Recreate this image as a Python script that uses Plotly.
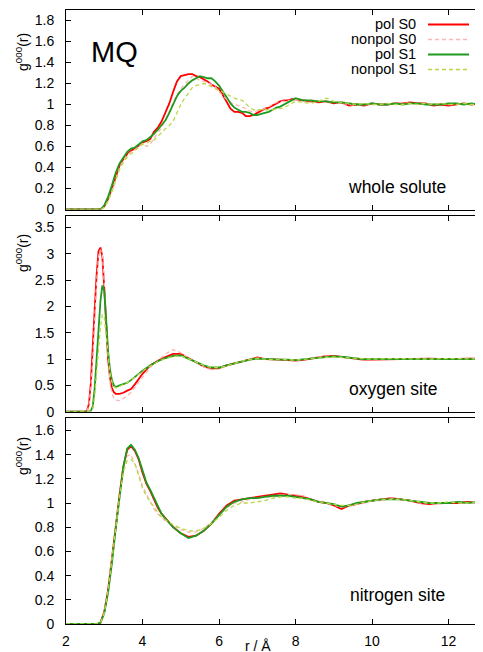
import plotly.graph_objects as go

# ---------------- data ----------------
series_names = ["pol S0", "nonpol S0", "pol S1", "nonpol S1"]
panel_labels = ["whole solute", "oxygen site", "nitrogen site"]

r_whole = [2.0, 2.9, 3.0, 3.1, 3.2, 3.3, 3.4, 3.5, 3.6, 3.7, 3.8, 3.9, 4.0, 4.1, 4.2, 4.3,
           4.4, 4.5, 4.6, 4.7, 4.8, 4.9, 5.0, 5.1, 5.2, 5.3, 5.4, 5.5, 5.6, 5.7, 5.8, 5.9,
           6.0, 6.1, 6.2, 6.3, 6.4, 6.5, 6.6, 6.7, 6.8, 6.9, 7.0, 7.1, 7.2, 7.3, 7.4, 7.5,
           7.6, 7.7, 7.8, 7.9, 8.0, 8.2, 8.4, 8.6, 8.8, 9.0, 9.2, 9.4, 9.6, 9.8, 10.0, 10.2,
           10.4, 10.6, 10.8, 11.0, 11.2, 11.4, 11.6, 11.8, 12.0, 12.2, 12.4, 12.6, 12.8, 13.0]
whole_pol_s0 = [0, 0, 0.03, 0.10, 0.20, 0.32, 0.42, 0.48, 0.53, 0.56, 0.58, 0.61, 0.64, 0.65, 0.67, 0.74,
                0.78, 0.84, 0.92, 1.01, 1.12, 1.22, 1.27, 1.28, 1.29, 1.29, 1.27, 1.26, 1.24, 1.22, 1.19, 1.17,
                1.15, 1.09, 1.03, 0.96, 0.93, 0.93, 0.92, 0.89, 0.89, 0.90, 0.92, 0.94, 0.96, 0.97, 0.99, 1.01,
                1.03, 1.04, 1.04, 1.05, 1.05, 1.04, 1.03, 1.02, 1.03, 1.01, 1.02, 0.99, 1.00, 0.99, 1.01, 1.00,
                1.00, 1.01, 1.01, 1.02, 1.01, 1.01, 0.99, 1.00, 0.99, 1.00, 1.01, 1.00, 1.01, 1.00]
whole_nonpol_s0 = [0, 0, 0.02, 0.08, 0.18, 0.30, 0.40, 0.47, 0.52, 0.55, 0.57, 0.60, 0.63, 0.60, 0.62, 0.68,
                   0.73, 0.78, 0.85, 0.93, 1.02, 1.10, 1.15, 1.19, 1.24, 1.27, 1.25, 1.23, 1.22, 1.21, 1.19, 1.17,
                   1.12, 1.08, 1.05, 1.02, 1.00, 0.99, 0.98, 0.96, 0.94, 0.93, 0.94, 0.95, 0.96, 0.98, 1.00, 1.02,
                   1.03, 1.03, 1.04, 1.04, 1.05, 1.03, 1.02, 1.03, 1.02, 1.02, 1.01, 1.00, 0.99, 1.00, 1.00, 1.01,
                   1.00, 1.01, 1.02, 1.01, 1.00, 1.01, 1.00, 1.01, 1.00, 1.01, 1.00, 1.00, 1.01, 1.00]
whole_pol_s1 = [0, 0, 0.04, 0.12, 0.23, 0.35, 0.44, 0.50, 0.55, 0.58, 0.59, 0.62, 0.65, 0.66, 0.69, 0.72,
                0.76, 0.80, 0.85, 0.92, 1.00, 1.08, 1.13, 1.16, 1.20, 1.23, 1.25, 1.27, 1.26, 1.25, 1.25, 1.22,
                1.18, 1.13, 1.07, 1.01, 0.97, 0.95, 0.93, 0.93, 0.92, 0.90, 0.90, 0.91, 0.92, 0.93, 0.95, 0.97,
                0.98, 1.00, 1.02, 1.04, 1.06, 1.04, 1.04, 1.03, 1.03, 1.02, 1.02, 1.01, 1.00, 1.00, 1.01, 1.00,
                1.00, 1.01, 1.00, 1.01, 1.01, 1.00, 1.00, 1.00, 1.01, 1.01, 1.00, 1.01, 1.00, 1.00]
whole_nonpol_s1 = [0, 0, 0.02, 0.08, 0.17, 0.28, 0.38, 0.45, 0.50, 0.53, 0.56, 0.59, 0.62, 0.63, 0.65, 0.66,
                   0.70, 0.74, 0.77, 0.80, 0.84, 0.92, 1.00, 1.06, 1.11, 1.16, 1.18, 1.19, 1.20, 1.19, 1.17, 1.15,
                   1.13, 1.12, 1.10, 1.08, 1.06, 1.05, 1.04, 1.01, 0.97, 0.95, 0.95, 0.95, 0.95, 0.95, 0.95, 0.96,
                   0.96, 0.97, 0.99, 1.01, 1.03, 1.02, 1.01, 1.03, 1.06, 1.03, 1.02, 1.01, 1.00, 1.01, 1.00, 1.00,
                   1.01, 1.00, 1.00, 1.01, 1.00, 1.01, 1.00, 1.01, 1.00, 1.00, 1.01, 1.00, 1.00, 1.00]

r_oxygen = [2.0, 2.5, 2.55, 2.6, 2.65, 2.7, 2.75, 2.8, 2.85, 2.9, 2.95, 3.0, 3.05, 3.1, 3.15, 3.2,
            3.25, 3.3, 3.4, 3.5, 3.6, 3.7, 3.8, 3.9, 4.0, 4.2, 4.4, 4.6, 4.8, 5.0, 5.2, 5.4,
            5.6, 5.8, 6.0, 6.2, 6.4, 6.6, 6.8, 7.0, 7.2, 7.4, 7.6, 7.8, 8.0, 8.25, 8.5, 8.75,
            9.0, 9.25, 9.5, 9.75, 10.0, 10.5, 11.0, 11.5, 12.0, 12.5, 13.0]
oxygen_pol_s0 = [0, 0, 0.02, 0.15, 0.55, 1.15, 1.95, 2.60, 3.05, 3.12, 2.95, 2.35, 1.55, 1.00, 0.65, 0.45,
                 0.37, 0.34, 0.34, 0.36, 0.40, 0.43, 0.52, 0.62, 0.72, 0.88, 0.97, 1.04, 1.10, 1.10, 1.02, 0.93,
                 0.86, 0.82, 0.83, 0.88, 0.92, 0.96, 1.00, 1.03, 1.00, 1.00, 0.99, 0.98, 0.97, 0.99, 1.02, 1.05,
                 1.06, 1.04, 1.01, 0.99, 0.99, 1.00, 1.01, 1.01, 1.00, 1.01, 1.00]
oxygen_nonpol_s0 = [0, 0, 0.01, 0.12, 0.45, 1.00, 1.75, 2.45, 2.95, 3.08, 3.00, 2.45, 1.60, 0.95, 0.55, 0.35,
                    0.26, 0.22, 0.21, 0.25, 0.30, 0.37, 0.46, 0.57, 0.66, 0.84, 0.97, 1.10, 1.18, 1.12, 1.02, 0.93,
                    0.85, 0.80, 0.81, 0.87, 0.92, 0.96, 1.00, 1.02, 1.01, 0.99, 0.99, 0.98, 0.98, 1.00, 1.03, 1.05,
                    1.05, 1.03, 1.00, 0.99, 1.00, 1.01, 1.00, 1.01, 1.00, 1.00, 1.01]
oxygen_pol_s1 = [0, 0, 0, 0, 0.02, 0.10, 0.45, 1.05, 1.65, 2.10, 2.40, 2.30, 1.75, 1.15, 0.80, 0.60,
                 0.50, 0.47, 0.50, 0.53, 0.55, 0.60, 0.66, 0.72, 0.78, 0.88, 0.96, 1.02, 1.06, 1.07, 1.01, 0.94,
                 0.88, 0.84, 0.84, 0.88, 0.92, 0.96, 0.99, 1.01, 1.00, 1.00, 0.99, 0.99, 0.98, 1.00, 1.02, 1.04,
                 1.05, 1.04, 1.02, 1.00, 1.00, 1.00, 1.01, 1.00, 1.01, 1.00, 1.00]
oxygen_nonpol_s1 = [0, 0, 0, 0, 0.01, 0.06, 0.30, 0.75, 1.20, 1.60, 1.85, 1.80, 1.45, 1.05, 0.75, 0.57,
                    0.48, 0.45, 0.48, 0.52, 0.55, 0.60, 0.65, 0.71, 0.77, 0.87, 0.95, 1.01, 1.05, 1.06, 1.01, 0.94,
                    0.88, 0.84, 0.84, 0.87, 0.92, 0.96, 0.99, 1.01, 1.00, 0.99, 1.00, 0.99, 0.98, 1.00, 1.02, 1.03,
                    1.04, 1.03, 1.01, 1.00, 1.00, 1.01, 1.00, 1.00, 1.01, 1.00, 1.00]

r_nitrogen = [2.0, 2.8, 2.9, 3.0, 3.1, 3.2, 3.3, 3.4, 3.5, 3.6, 3.7, 3.8, 3.9, 4.0, 4.1, 4.2,
              4.3, 4.4, 4.5, 4.6, 4.8, 5.0, 5.2, 5.4, 5.6, 5.8, 6.0, 6.2, 6.4, 6.6, 6.8, 7.0,
              7.2, 7.4, 7.6, 7.8, 8.0, 8.2, 8.4, 8.6, 8.8, 9.0, 9.2, 9.4, 9.6, 9.8, 10.0, 10.25,
              10.5, 10.75, 11.0, 11.25, 11.5, 11.75, 12.0, 12.25, 12.5, 12.75, 13.0]
nitrogen_pol_s0 = [0, 0, 0.01, 0.10, 0.28, 0.52, 0.80, 1.07, 1.30, 1.44, 1.47, 1.43, 1.36, 1.25, 1.16, 1.10,
                   1.03, 0.96, 0.91, 0.87, 0.80, 0.75, 0.72, 0.73, 0.77, 0.83, 0.91, 0.98, 1.02, 1.03, 1.04, 1.05,
                   1.06, 1.07, 1.08, 1.07, 1.06, 1.05, 1.03, 1.01, 1.00, 0.98, 0.95, 0.98, 0.99, 1.01, 1.02, 1.03,
                   1.04, 1.03, 1.02, 1.00, 0.99, 1.00, 1.00, 1.00, 1.01, 1.00, 1.01]
nitrogen_nonpol_s0 = [0, 0, 0.01, 0.10, 0.28, 0.52, 0.80, 1.06, 1.28, 1.39, 1.40, 1.32, 1.24, 1.14, 1.08, 1.01,
                      0.95, 0.91, 0.88, 0.85, 0.81, 0.78, 0.76, 0.76, 0.79, 0.84, 0.90, 0.96, 1.00, 1.01, 1.03, 1.04,
                      1.05, 1.05, 1.06, 1.07, 1.07, 1.06, 1.03, 1.01, 1.00, 0.98, 0.97, 0.97, 0.99, 1.00, 1.02, 1.02,
                      1.04, 1.03, 1.02, 1.00, 1.00, 0.99, 1.00, 1.01, 1.00, 1.00, 1.01]
nitrogen_pol_s1 = [0, 0, 0.01, 0.09, 0.26, 0.50, 0.79, 1.06, 1.30, 1.45, 1.48, 1.44, 1.37, 1.27, 1.17, 1.11,
                   1.04, 0.97, 0.91, 0.87, 0.80, 0.75, 0.71, 0.73, 0.77, 0.83, 0.90, 0.97, 1.01, 1.03, 1.04, 1.04,
                   1.05, 1.06, 1.06, 1.06, 1.05, 1.04, 1.03, 1.01, 1.00, 0.99, 0.97, 0.98, 1.00, 1.01, 1.02, 1.03,
                   1.03, 1.03, 1.02, 1.01, 1.00, 1.00, 1.00, 1.01, 1.00, 1.01, 1.01]
nitrogen_nonpol_s1 = [0, 0, 0.01, 0.09, 0.27, 0.51, 0.79, 1.05, 1.26, 1.35, 1.36, 1.33, 1.22, 1.12, 1.06, 1.01,
                      0.96, 0.92, 0.88, 0.86, 0.82, 0.79, 0.77, 0.77, 0.79, 0.83, 0.88, 0.94, 0.98, 1.00, 1.00, 1.01,
                      1.02, 1.04, 1.05, 1.05, 1.04, 1.04, 1.02, 1.01, 1.00, 0.99, 0.98, 0.98, 0.99, 1.01, 1.02, 1.03,
                      1.03, 1.03, 1.02, 1.01, 1.00, 1.00, 1.01, 1.00, 1.00, 1.01, 1.00]

x_ticks = [2, 4, 6, 8, 10, 12]
y_ticks_whole = [0, 0.2, 0.4, 0.6, 0.8, 1, 1.2, 1.4, 1.6, 1.8]
y_ticks_oxygen = [0, 0.5, 1, 1.5, 2, 2.5, 3, 3.5]
y_ticks_nitrogen = [0, 0.2, 0.4, 0.6, 0.8, 1, 1.2, 1.4, 1.6]

panels = [
    (r_whole, [whole_pol_s0, whole_nonpol_s0, whole_pol_s1, whole_nonpol_s1], y_ticks_whole, 1.9),
    (r_oxygen, [oxygen_pol_s0, oxygen_nonpol_s0, oxygen_pol_s1, oxygen_nonpol_s1], y_ticks_oxygen, 3.72),
    (r_nitrogen, [nitrogen_pol_s0, nitrogen_nonpol_s0, nitrogen_pol_s1, nitrogen_nonpol_s1], y_ticks_nitrogen, 1.7),
]
for rr, ys, _, _ in panels:
    for y in ys:
        assert len(y) == len(rr), (len(rr), len(y))

# ---------------- styling ----------------
# The page has an 8px body margin, so figure pixel = page pixel - OFF.
OFF = 8
W, H = 483, 652
PL, PR, PT, PB = 66, 483, 10, 624          # plot-area edges in page pixels
ML, MT = PL - OFF, PT - OFF
MR = W - (PR - OFF)
MB = H - (PB - OFF)
PW, PH = W - ML - MR, H - MT - MB
FONT = "Liberation Sans, Arial, sans-serif"
colors = ["#ff0000", "#ffb4b4", "#1e9b1e", "#b8d845"]
dashes = ["solid", "4px,3px", "solid", "4px,3px"]
widths = [1.8, 1.3, 1.8, 1.3]

def px_x(px):
    return (px - OFF - ML) / PW

def px_y(py):
    return (H - MB - (py - OFF)) / PH

# panel page-pixel extents (top, bottom)
panel_px = [(10, 209.5), (216, 411.7), (418.3, 624)]

fig = go.Figure()
for i, (rr, ys, yt, ytop) in enumerate(panels):
    k = "" if i == 0 else str(i + 1)
    for j, y in enumerate(ys):
        fig.add_trace(go.Scatter(
            x=rr, y=y, mode="lines", name=series_names[j], showlegend=False,
            xaxis="x" + k, yaxis="y" + k,
            line=dict(color=colors[j], width=widths[j], dash=dashes[j]),
        ))
    top, bot = panel_px[i]
    common = dict(showline=True, linecolor="black", linewidth=1, mirror="ticks",
                  ticks="inside", ticklen=5, tickwidth=1, tickcolor="black",
                  showgrid=False, zeroline=False,
                  tickfont=dict(family=FONT, size=14, color="black"))
    fig.update_layout({
        "xaxis" + k: dict(common, domain=[0, 1], range=[2, 12.9], anchor="y" + k,
                          tickvals=x_ticks, showticklabels=(i == 2), ticklabelstandoff=4),
        "yaxis" + k: dict(common, domain=[px_y(bot), px_y(top)], range=[0, ytop],
                          anchor="x" + k, tickvals=yt, ticklabelstandoff=8),
    })

annotations = []
# y axis titles
for cy in [52, 253, 456]:
    annotations.append(dict(x=px_x(22), y=px_y(cy), xref="paper", yref="paper",
                            text="g<sup>000</sup>(r)", textangle=-90, showarrow=False,
                            font=dict(family=FONT, size=14, color="black"),
                            xanchor="center", yanchor="middle"))
# x axis title
annotations.append(dict(x=px_x(258), y=px_y(646), xref="paper", yref="paper",
                        text="r / Å", showarrow=False, xanchor="center", yanchor="middle",
                        font=dict(family=FONT, size=14, color="black")))
# panel labels
for (lx, ly), txt in zip([(448, 187), (440, 389), (447, 595)], panel_labels):
    annotations.append(dict(x=px_x(lx), y=px_y(ly), xref="paper", yref="paper", text=txt,
                            showarrow=False, xanchor="right", yanchor="middle",
                            font=dict(family=FONT, size=17.5, color="black")))
# MQ
annotations.append(dict(x=px_x(89), y=px_y(52), xref="paper", yref="paper", text="MQ",
                        showarrow=False, xanchor="left", yanchor="middle",
                        font=dict(family=FONT, size=29, color="black")))

# legend (text left of the line sample, as in the reference)
shapes = []
for j, (name, ly) in enumerate(zip(series_names, [23.5, 38.5, 53.5, 68.5])):
    annotations.append(dict(x=px_x(418), y=px_y(ly), xref="paper", yref="paper", text=name,
                            showarrow=False, xanchor="right", yanchor="middle",
                            font=dict(family=FONT, size=14.5, color="black")))
    shapes.append(dict(type="line", xref="paper", yref="paper",
                       x0=px_x(428), x1=px_x(469), y0=px_y(ly + 1), y1=px_y(ly + 1),
                       line=dict(color=colors[j], width=widths[j], dash=dashes[j])))

fig.update_layout(width=W, height=H, margin=dict(l=ML, r=MR, t=MT, b=MB),
                  paper_bgcolor="white", plot_bgcolor="white",
                  annotations=annotations, shapes=shapes, showlegend=False,
                  font=dict(family=FONT, color="black"))

fig.write_html("out.html")
